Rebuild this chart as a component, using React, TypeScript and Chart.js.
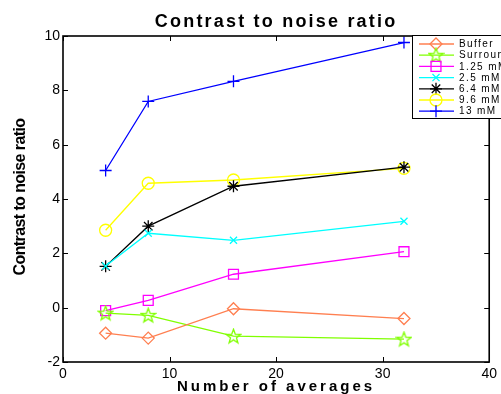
import React, { useEffect, useRef } from 'react';
import { Chart, registerables } from 'chart.js';
import { drawPoint } from 'chart.js/helpers';

Chart.register(...registerables);

const xValues = [4, 8, 16, 32];
const seriesLabels = ['Buffer', 'Surround', '1.25 mM', '2.5 mM', '6.4 mM', '9.6 mM', '13 mM'];
const bufferValues = [-0.94, -1.12, -0.04, -0.4];
const surroundValues = [-0.2, -0.28, -1.05, -1.16];
const mM125Values = [-0.11, 0.27, 1.23, 2.06];
const mM25Values = [1.53, 2.74, 2.48, 3.18];
const mM64Values = [1.52, 3.0, 4.47, 5.17];
const mM96Values = [2.85, 4.58, 4.7, 5.13];
const mM13Values = [5.05, 7.59, 8.33, 9.76];
const xTicks = [0, 10, 20, 30, 40];
const yTicks = [-2, 0, 2, 4, 6, 8, 10];

const FONT = "'Liberation Sans', Arial, Helvetica, sans-serif";

function makePentagram(color: string): HTMLCanvasElement {
  const c = document.createElement('canvas');
  c.width = 17;
  c.height = 17;
  const ctx = c.getContext('2d')!;
  ctx.strokeStyle = color;
  ctx.lineWidth = 1.3;
  ctx.beginPath();
  const cx = 8.5, cy = 9, ro = 7.5, ri = 3.1;
  for (let i = 0; i < 10; i++) {
    const r = i % 2 === 0 ? ro : ri;
    const a = -Math.PI / 2 + (i * Math.PI) / 5;
    const px = cx + r * Math.cos(a);
    const py = cy + r * Math.sin(a);
    if (i === 0) ctx.moveTo(px, py);
    else ctx.lineTo(px, py);
  }
  ctx.closePath();
  ctx.stroke();
  return c;
}

export default function App() {
  const ref = useRef<HTMLCanvasElement | null>(null);

  useEffect(() => {
    if (!ref.current) return;
    const star = makePentagram('#80ff00');
    const styles: any[] = [
      { color: '#ff7f50', style: 'rectRot', r: 6 },
      { color: '#80ff00', style: star, r: 7 },
      { color: '#ff00ff', style: 'rect', r: 7 },
      { color: '#00ffff', style: 'crossRot', r: 5 },
      { color: '#000000', style: 'star', r: 6 },
      { color: '#ffff00', style: 'circle', r: 6 },
      { color: '#0000ff', style: 'cross', r: 6 },
    ];
    const allValues = [bufferValues, surroundValues, mM125Values, mM25Values, mM64Values, mM96Values, mM13Values];
    const datasets = allValues.map((vals, i) => ({
      label: seriesLabels[i],
      data: xValues.map((x, j) => ({ x, y: vals[j] })),
      borderColor: styles[i].color,
      backgroundColor: 'rgba(0,0,0,0)',
      pointBorderColor: styles[i].color,
      pointBackgroundColor: 'rgba(0,0,0,0)',
      pointStyle: styles[i].style,
      pointRadius: styles[i].r,
      pointBorderWidth: 1.3,
      borderWidth: 1.3,
      tension: 0,
    }));

    const framePlugin = {
      id: 'frame',
      afterDraw(chart: any) {
        const { ctx, chartArea: a, scales } = chart;
        ctx.save();
        ctx.strokeStyle = '#000';
        ctx.lineWidth = 1.6;
        ctx.strokeRect(a.left, a.top, a.right - a.left, a.bottom - a.top);
        ctx.lineWidth = 1;
        ctx.beginPath();
        xTicks.forEach((t) => {
          const px = Math.round(scales.x.getPixelForValue(t)) + 0.5;
          ctx.moveTo(px, a.bottom);
          ctx.lineTo(px, a.bottom - 5);
          ctx.moveTo(px, a.top);
          ctx.lineTo(px, a.top + 5);
        });
        yTicks.forEach((t) => {
          const py = Math.round(scales.y.getPixelForValue(t)) + 0.5;
          ctx.moveTo(a.left, py);
          ctx.lineTo(a.left + 5, py);
          ctx.moveTo(a.right, py);
          ctx.lineTo(a.right - 5, py);
        });
        ctx.stroke();

        // Title
        ctx.fillStyle = '#000';
        ctx.textAlign = 'center';
        ctx.textBaseline = 'alphabetic';
        ctx.font = `bold 18px ${FONT}`;
        (ctx as any).letterSpacing = '2.2px';
        ctx.fillText('Contrast to noise ratio', (a.left + a.right) / 2, 27);
        // X title
        ctx.font = `bold 15px ${FONT}`;
        (ctx as any).letterSpacing = '3px';
        ctx.fillText('Number of averages', 276, 391);
        // Y title
        ctx.save();
        ctx.translate(25, 197);
        ctx.rotate(-Math.PI / 2);
        ctx.font = `bold 16px ${FONT}`;
        (ctx as any).letterSpacing = '-0.6px';
        ctx.fillText('Contrast to noise ratio', 0, 0);
        ctx.restore();

        // Legend
        const lx = 412, ly = 35, lw = 100, lh = 83;
        ctx.fillStyle = '#fff';
        ctx.fillRect(lx, ly, lw, lh);
        ctx.strokeStyle = '#000';
        ctx.lineWidth = 1;
        ctx.strokeRect(lx + 0.5, ly + 0.5, lw, lh);
        ctx.font = `10px ${FONT}`;
        (ctx as any).letterSpacing = '1.4px';
        ctx.textAlign = 'left';
        ctx.textBaseline = 'middle';
        seriesLabels.forEach((lab, i) => {
          const y = 44 + i * 11.2;
          const s = styles[i];
          ctx.strokeStyle = s.color;
          ctx.lineWidth = 1.3;
          ctx.beginPath();
          ctx.moveTo(419, y);
          ctx.lineTo(454, y);
          ctx.stroke();
          ctx.fillStyle = 'rgba(0,0,0,0)';
          drawPoint(ctx, { pointStyle: s.style, radius: s.r, rotation: 0, borderWidth: 1.3 } as any, 436, y);
          ctx.fillStyle = '#000';
          ctx.fillText(lab, 459, y + 0.5);
        });
        (ctx as any).letterSpacing = '0px';
        ctx.restore();
      },
    };

    const chart = new Chart(ref.current, {
      type: 'line',
      data: { datasets: datasets as any },
      options: {
        animation: false,
        responsive: false,
        layout: { padding: { top: 36, right: 10, left: 0, bottom: 0 } },
        plugins: { legend: { display: false }, title: { display: false }, tooltip: { enabled: false } },
        scales: {
          x: {
            type: 'linear',
            min: 0,
            max: 40,
            afterBuildTicks: (s: any) => { s.ticks = xTicks.map((v) => ({ value: v })); },
            afterFit: (s: any) => { s.height = 32; },
            grid: { display: false, drawTicks: false },
            border: { display: false },
            ticks: { color: '#000', padding: 4, maxRotation: 0, font: { family: FONT, size: 14 } },
          },
          y: {
            type: 'linear',
            min: -2,
            max: 10,
            afterBuildTicks: (s: any) => { s.ticks = yTicks.map((v) => ({ value: v })); },
            afterFit: (s: any) => { s.width = 63; },
            grid: { display: false, drawTicks: false },
            border: { display: false },
            ticks: { color: '#000', padding: 3, font: { family: FONT, size: 14 } },
          },
        },
      },
      plugins: [framePlugin],
    });
    return () => chart.destroy();
  }, []);

  return (
    <div style={{ position: 'absolute', left: 0, top: 0, width: 501, height: 394, background: '#fff' }}>
      <canvas ref={ref} width={501} height={394} style={{ display: 'block', width: 501, height: 394 }} />
    </div>
  );
}
